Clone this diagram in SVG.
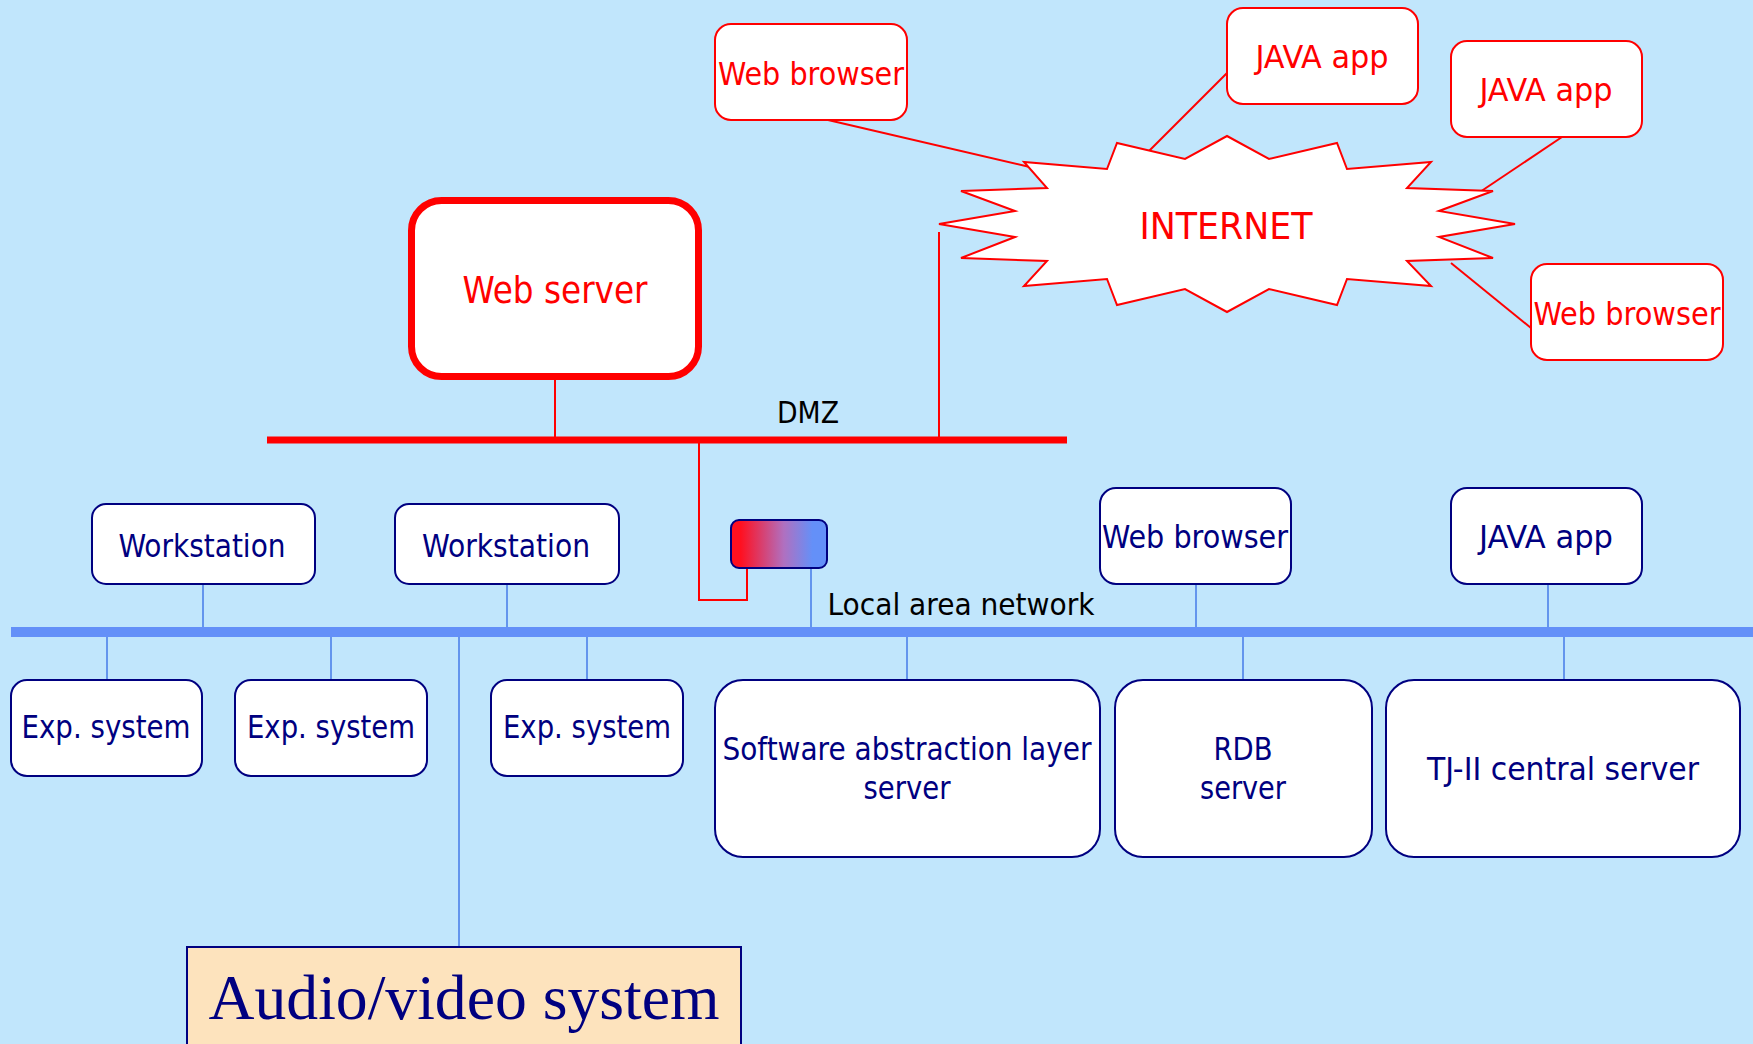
<svg xmlns="http://www.w3.org/2000/svg" width="1753" height="1044" viewBox="0 0 1753 1044">
  <defs>
    <linearGradient id="routerFill" x1="0" y1="0" x2="1" y2="0">
      <stop offset="0.1" stop-color="#FF1020"/>
      <stop offset="0.55" stop-color="#B070C0"/>
      <stop offset="0.85" stop-color="#6490F8"/>
    </linearGradient>
    <style>
      .bg { fill: #C1E6FC; }
      .txt { font-family: "DejaVu Sans Condensed", "DejaVu Sans", sans-serif; font-size: 32px; text-anchor: middle; }
      .red-box { fill: #FFFFFF; stroke: #FF0000; stroke-width: 2; }
      .red-txt { fill: #FF0000; }
      .lan-box { fill: #FFFFFF; stroke: #000080; stroke-width: 2; }
      .lan-txt { fill: #000080; }
      .red-link { fill: none; stroke: #FF0000; stroke-width: 2; }
      .blue-link { fill: none; stroke: #6495ED; stroke-width: 2; }
      .label { fill: #000000; }
    </style>
  </defs>

  <rect class="bg" x="0" y="0" width="1753" height="1044"/>

  <!-- connectors and network buses -->
  <g id="connectors">
    <line class="red-link" x1="828" y1="120" x2="1034" y2="168"/>
    <line class="red-link" x1="1227" y1="73" x2="1148" y2="152"/>
    <line class="red-link" x1="1562" y1="137" x2="1468" y2="200"/>
    <line class="red-link" x1="1451" y1="263" x2="1531" y2="328"/>
    <line class="red-link" x1="939" y1="232" x2="939" y2="437"/>
    <line class="red-link" x1="555" y1="380" x2="555" y2="437"/>
    <polyline class="red-link" points="699,440 699,600 747,600 747,568"/>
    <!-- DMZ bus -->
    <line x1="267" y1="440" x2="1067" y2="440" stroke="#FF0000" stroke-width="7"/>

    <line class="blue-link" x1="811" y1="568" x2="811" y2="628"/>
    <line class="blue-link" x1="203" y1="584" x2="203" y2="628"/>
    <line class="blue-link" x1="507" y1="584" x2="507" y2="628"/>
    <line class="blue-link" x1="1196" y1="584" x2="1196" y2="628"/>
    <line class="blue-link" x1="1548" y1="584" x2="1548" y2="628"/>
    <line class="blue-link" x1="107" y1="636" x2="107" y2="680"/>
    <line class="blue-link" x1="331" y1="636" x2="331" y2="680"/>
    <line class="blue-link" x1="587" y1="636" x2="587" y2="680"/>
    <line class="blue-link" x1="907" y1="636" x2="907" y2="680"/>
    <line class="blue-link" x1="1243" y1="636" x2="1243" y2="680"/>
    <line class="blue-link" x1="1564" y1="636" x2="1564" y2="680"/>
    <line class="blue-link" x1="459" y1="636" x2="459" y2="947"/>
    <!-- LAN bus -->
    <line x1="11" y1="632" x2="1753" y2="632" stroke="#6490F8" stroke-width="10"/>
  </g>

  <text class="txt label" x="808" y="423" font-size="30" textLength="62" lengthAdjust="spacingAndGlyphs" style="font-size:30px">DMZ</text>
  <text class="txt label" x="961" y="615" textLength="267" lengthAdjust="spacingAndGlyphs" style="font-size:30px">Local area network</text>

  <!-- internet side -->
  <g id="internet">
    <polygon fill="#FFFFFF" stroke="#FF0000" stroke-width="2"
      points="1227,136 1269,159 1337,143 1347,169 1431,162 1407,188 1493,191 1439,211 1515,224 1439,237 1493,258 1407,261 1431,286 1347,279 1337,305 1269,289 1227,312 1185,289 1117,305 1107,279 1024,286 1047,261 961,258 1015,237 939,224 1015,211 961,191 1047,188 1024,162 1107,169 1117,143 1185,159"/>
    <text class="txt red-txt" x="1226" y="239" textLength="173" lengthAdjust="spacingAndGlyphs" style="font-size:37px">INTERNET</text>
  </g>

  <g id="web-browser-remote-1">
    <rect class="red-box" x="715" y="24" width="192" height="96" rx="16"/>
    <text class="txt red-txt" x="811" y="85" textLength="186" lengthAdjust="spacingAndGlyphs">Web browser</text>
  </g>
  <g id="java-app-remote-1">
    <rect class="red-box" x="1227" y="8" width="191" height="96" rx="16"/>
    <text class="txt red-txt" x="1322" y="68" textLength="133" lengthAdjust="spacingAndGlyphs">JAVA app</text>
  </g>
  <g id="java-app-remote-2">
    <rect class="red-box" x="1451" y="41" width="191" height="96" rx="16"/>
    <text class="txt red-txt" x="1546" y="101" textLength="133" lengthAdjust="spacingAndGlyphs">JAVA app</text>
  </g>
  <g id="web-browser-remote-2">
    <rect class="red-box" x="1531" y="264" width="192" height="96" rx="16"/>
    <text class="txt red-txt" x="1627" y="325" textLength="187" lengthAdjust="spacingAndGlyphs">Web browser</text>
  </g>

  <!-- DMZ -->
  <g id="web-server">
    <rect x="411.5" y="200.5" width="287" height="176" rx="30" fill="#FFFFFF" stroke="#FF0000" stroke-width="7"/>
    <text class="txt red-txt" x="555" y="303" textLength="185" lengthAdjust="spacingAndGlyphs" style="font-size:38px">Web server</text>
  </g>

  <g id="router">
    <rect x="731" y="520" width="96" height="48" rx="8" fill="url(#routerFill)" stroke="#000080" stroke-width="2"/>
  </g>

  <!-- local area network -->
  <g id="workstation-1">
    <rect class="lan-box" x="92" y="504" width="223" height="80" rx="14"/>
    <text class="txt lan-txt" x="202" y="557" textLength="167" lengthAdjust="spacingAndGlyphs">Workstation</text>
  </g>
  <g id="workstation-2">
    <rect class="lan-box" x="395" y="504" width="224" height="80" rx="14"/>
    <text class="txt lan-txt" x="506" y="557" textLength="168" lengthAdjust="spacingAndGlyphs">Workstation</text>
  </g>
  <g id="web-browser-local">
    <rect class="lan-box" x="1100" y="488" width="191" height="96" rx="16"/>
    <text class="txt lan-txt" x="1195" y="548" textLength="186" lengthAdjust="spacingAndGlyphs">Web browser</text>
  </g>
  <g id="java-app-local">
    <rect class="lan-box" x="1451" y="488" width="191" height="96" rx="16"/>
    <text class="txt lan-txt" x="1546" y="548" textLength="134" lengthAdjust="spacingAndGlyphs">JAVA app</text>
  </g>

  <g id="exp-system-1">
    <rect class="lan-box" x="11" y="680" width="191" height="96" rx="16"/>
    <text class="txt lan-txt" x="106" y="738" textLength="169" lengthAdjust="spacingAndGlyphs">Exp. system</text>
  </g>
  <g id="exp-system-2">
    <rect class="lan-box" x="235" y="680" width="192" height="96" rx="16"/>
    <text class="txt lan-txt" x="331" y="738" textLength="168" lengthAdjust="spacingAndGlyphs">Exp. system</text>
  </g>
  <g id="exp-system-3">
    <rect class="lan-box" x="491" y="680" width="192" height="96" rx="16"/>
    <text class="txt lan-txt" x="587" y="738" textLength="168" lengthAdjust="spacingAndGlyphs">Exp. system</text>
  </g>

  <g id="sal-server">
    <rect class="lan-box" x="715" y="680" width="385" height="177" rx="28"/>
    <text class="txt lan-txt" x="907" y="760" textLength="369" lengthAdjust="spacingAndGlyphs">Software abstraction layer</text>
    <text class="txt lan-txt" x="907" y="799" textLength="87" lengthAdjust="spacingAndGlyphs">server</text>
  </g>
  <g id="rdb-server">
    <rect class="lan-box" x="1115" y="680" width="257" height="177" rx="28"/>
    <text class="txt lan-txt" x="1243" y="760" textLength="59" lengthAdjust="spacingAndGlyphs">RDB</text>
    <text class="txt lan-txt" x="1243" y="799" textLength="86" lengthAdjust="spacingAndGlyphs">server</text>
  </g>
  <g id="tj2-central-server">
    <rect class="lan-box" x="1386" y="680" width="354" height="177" rx="28"/>
    <text class="txt lan-txt" x="1563" y="780" textLength="272" lengthAdjust="spacingAndGlyphs">TJ-II central server</text>
  </g>

  <g id="audio-video-system">
    <rect x="187" y="947" width="554" height="110" fill="#FDE3BD" stroke="#000080" stroke-width="2"/>
    <text x="464" y="1019" fill="#000080" font-family="'Liberation Serif', 'Times New Roman', serif" font-size="63" text-anchor="middle" textLength="511" lengthAdjust="spacingAndGlyphs">Audio/video system</text>
  </g>
</svg>
